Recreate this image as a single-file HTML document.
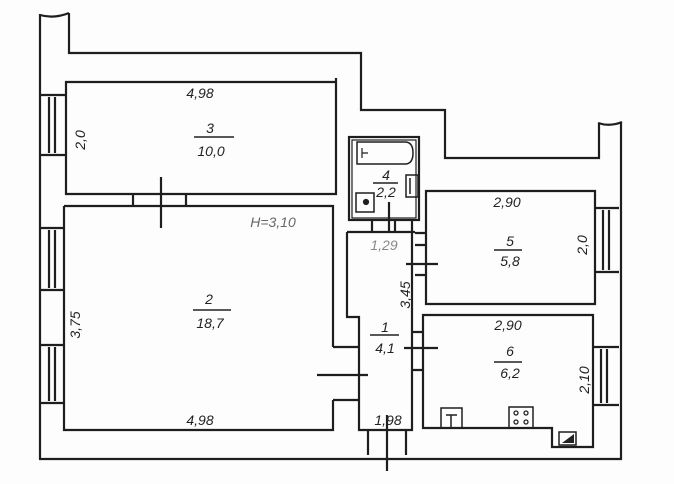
<!DOCTYPE html>
<html><head><meta charset="utf-8"><style>
html,body{margin:0;padding:0;background:#fff;}
svg{display:block}
text{font-family:"Liberation Sans",sans-serif;font-style:italic;fill:#222;font-size:14px}
</style></head><body>
<svg width="674" height="484" viewBox="0 0 674 484" xmlns="http://www.w3.org/2000/svg">
<rect width="674" height="484" fill="#fdfdfd"/>
<g fill="none" stroke="#1e1e1e" stroke-width="2.2">
<path d="M40 459 V14 M40 15 Q54 19 69 13 M69 13 V53 H361 V110 H445 V158 H599 V123 M598 123 Q610 127 622 122 M621 122 V459 H39"/>
<path d="M66 82 H336 V194 H66 Z M336 78 V82"/>
<path d="M133 194 V206 M186 194 V206 M161 177 V228"/>
<path d="M64 206 H333 V347 M333 400 V430 H64 V206"/>
<path d="M333 347 H359 M333 400 H359 M317 375 H368"/>
<path d="M41 95 H66 M41 155 H66 M49 97 V153 M55 97 V153"/>
<path d="M41 228 H64 M41 290 H64 M49 230 V288 M55 230 V288"/>
<path d="M41 345 H64 M41 403 H64 M49 347 V401 M55 347 V401"/>
<rect x="349" y="137" width="70" height="83"/>
<rect x="352" y="140" width="64" height="78" stroke-width="1.2"/>
<path d="M357 142 H405 Q413 142 413 153 Q413 164 405 164 H357 Z" stroke-width="1.5"/>
<path d="M362 148 V158 M362 153 H368" stroke-width="1.2"/>
<rect x="356" y="193" width="18" height="19" stroke-width="1.5"/>
<circle cx="366" cy="202" r="2" fill="#222"/>
<path d="M406 175 H418 V197 H406 Z M410 178 V194" stroke-width="1.5"/>
<path d="M372 220 V232 M395 220 V232 M412 220 V232 M389 202 V232"/>
<path d="M347 232 H415 M347 232 V317 H359 V430 H412 V232"/>
<path d="M368 430 V455 M406 430 V455 M387 415 V471"/>
<path d="M426 191 H595 V304 H426 Z"/>
<path d="M415 233 H426 M415 245 H426 M415 275 H426 M406 264 H438"/>
<path d="M595 208 H619 M595 272 H619 M603 210 V270 M609 210 V270"/>
<path d="M423 315 H593 V447 H552 V428 H423 Z"/>
<path d="M413 332 H423 M413 370 H423 M404 348 H438"/>
<path d="M593 347 H619 M593 405 H619 M601 349 V403 M607 349 V403"/>
<rect x="441" y="408" width="21" height="20" stroke-width="1.5"/>
<path d="M446 415 H457 M451 415 V427" stroke-width="1.5"/>
<rect x="509" y="407" width="24" height="21" stroke-width="1.5"/>
<rect x="559" y="432" width="17" height="13" stroke-width="1.5"/>
</g>
<g fill="none" stroke="#222" stroke-width="1.3">
<circle cx="516" cy="413" r="2"/><circle cx="526" cy="413" r="2"/>
<circle cx="516" cy="422" r="2"/><circle cx="526" cy="422" r="2"/>
</g>
<path d="M562 443 L574 434 L574 443 Z" fill="#222"/>
<g stroke="#222" stroke-width="1.5">
<path d="M194 137 H234 M193 310 H231 M373 183 H398 M370 335 H399 M494 250 H522 M494 362 H522"/>
</g>
<g text-anchor="middle">
<text x="200" y="98">4,98</text>
<text x="210" y="133">3</text>
<text x="211" y="156">10,0</text>
<text x="209" y="304">2</text>
<text x="210" y="328">18,7</text>
<text x="200" y="425">4,98</text>
<text x="273" y="227" style="fill:#666">H=3,10</text>
<text x="386" y="180" font-size="12">4</text>
<text x="386" y="197" font-size="12">2,2</text>
<text x="384" y="250" style="fill:#888">1,29</text>
<text x="385" y="332">1</text>
<text x="385" y="353">4,1</text>
<text x="388" y="425">1,98</text>
<text x="507" y="207">2,90</text>
<text x="510" y="246">5</text>
<text x="510" y="266">5,8</text>
<text x="508" y="330">2,90</text>
<text x="510" y="356">6</text>
<text x="510" y="378">6,2</text>
<text x="370" y="494">2,0</text>
</g>
<g text-anchor="middle">
<text transform="translate(85,140) rotate(-90)">2,0</text>
<text transform="translate(80,325) rotate(-90)">3,75</text>
<text transform="translate(410,295) rotate(-90)">3,45</text>
<text transform="translate(587,245) rotate(-90)">2,0</text>
<text transform="translate(589,380) rotate(-90)">2,10</text>
</g>
</svg>
</body></html>
